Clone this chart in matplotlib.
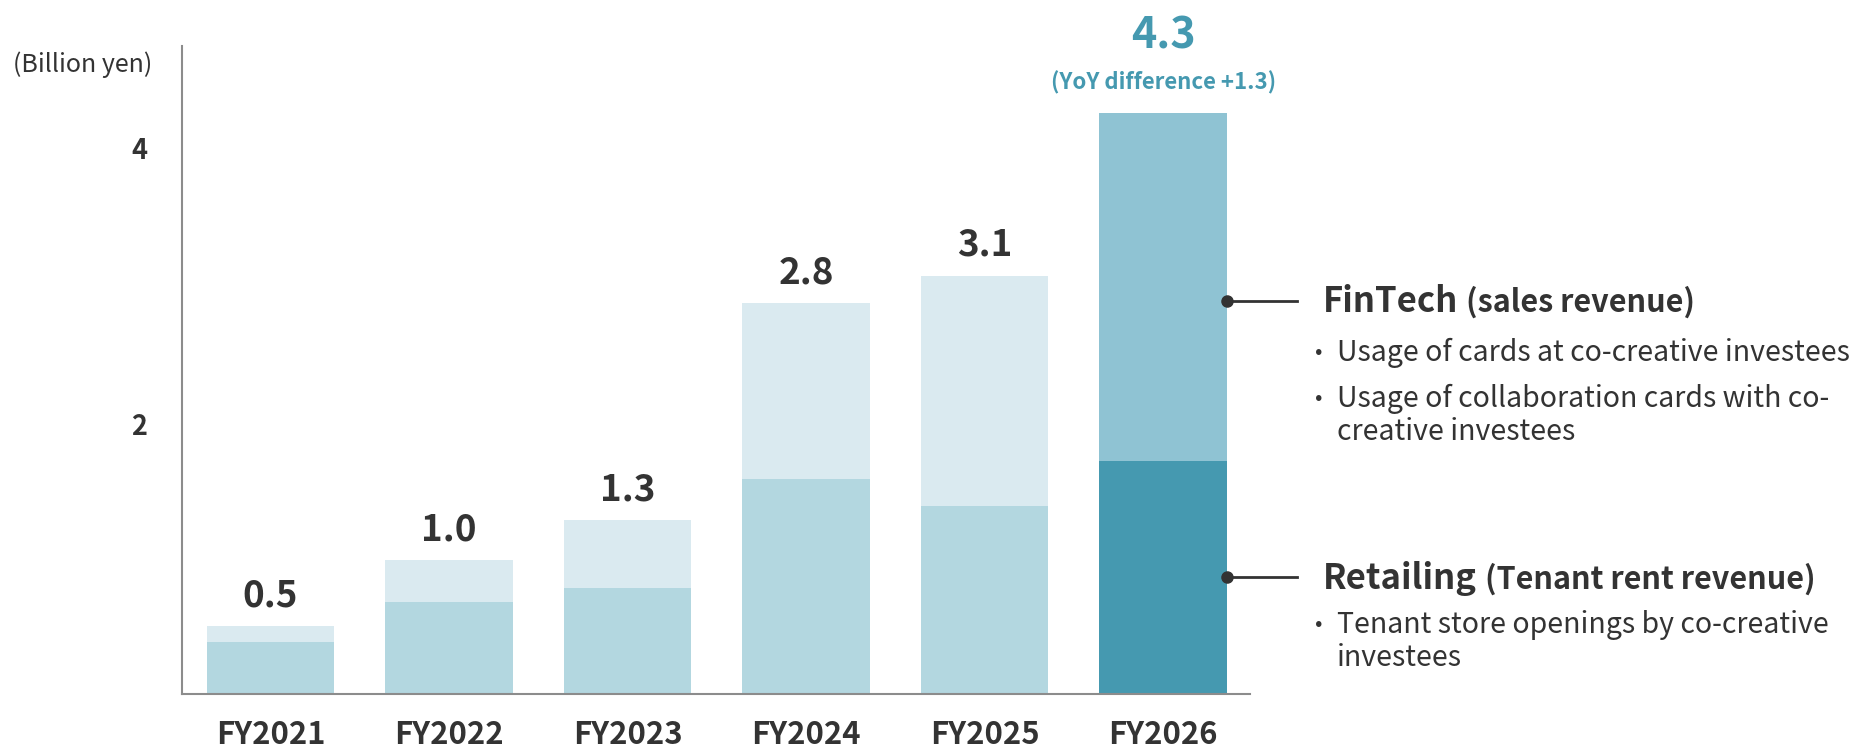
import numpy as np
import matplotlib
matplotlib.use("Agg")
import matplotlib.pyplot as plt

plt.rcParams['font.family'] = ['Noto Sans CJK JP', 'DejaVu Sans']

# data (billion yen)
years = ['FY2021', 'FY2022', 'FY2023', 'FY2024', 'FY2025', 'FY2026']
retail = [0.38, 0.67, 0.77, 1.56, 1.36, 1.69]
fintech = [0.11, 0.30, 0.49, 1.27, 1.67, 2.52]
total_labels = ['0.5', '1.0', '1.3', '2.8', '3.1', '4.3']
yoy_label = '(YoY difference +1.3)'
y_ticks = [2, 4]
callout_y = [2.85, 0.85]   # fintech, retailing

fin_title = ['FinTech', '(sales revenue)']
fin_bullets = [['Usage of cards at co-creative investees'],
               ['Usage of collaboration cards with co-', 'creative investees']]
ret_title = ['Retailing', '(Tenant rent revenue)']
ret_bullets = [['Tenant store openings by co-creative', 'investees']]

DARK = '#333333'
TEAL = '#4599b0'

W, H = 1858, 746
fig = plt.figure(figsize=(W / 100, H / 100), dpi=100)

def fx(px):
    return px / W

def fy(py):
    return 1 - py / H

ax = fig.add_axes([fx(182), fy(694), (1250 - 182) / W, (694 - 46) / H])

x = np.arange(len(years))
retail_colors = ['#b3d7e0'] * 5 + ['#4599b0']
fintech_colors = ['#daeaf0'] * 5 + ['#8fc3d3']
bw = 0.714
ax.bar(x, retail, width=bw, color=retail_colors, zorder=2)
ax.bar(x, fintech, bottom=retail, width=bw, color=fintech_colors, zorder=2)

ax.set_xlim(-0.496, 5.487)
ax.set_ylim(0, 4.696)

for s in ['top', 'right']:
    ax.spines[s].set_visible(False)
for s in ['left', 'bottom']:
    ax.spines[s].set_color('#8c8c8c')
    ax.spines[s].set_linewidth(1.5)

ax.set_xticks(x, years)
ax.tick_params(axis='x', length=0, pad=36, labelsize=22.3, labelcolor=DARK)
for lbl in ax.get_xticklabels():
    lbl.set_fontweight('bold')
    lbl.set_va('baseline')
ax.set_yticks([])

for t in y_ticks:
    ax.annotate(str(t), xy=(0, t), xycoords=('axes fraction', 'data'),
                xytext=(-35, -17), textcoords='offset pixels',
                ha='right', va='baseline', fontsize=19.5,
                fontweight='bold', color=DARK)

fig.text(fx(13), fy(65), '(Billion yen)', ha='left', va='center',
         fontsize=18, color=DARK)

totals = [r + f for r, f in zip(retail, fintech)]
for i, (tot, lab) in enumerate(zip(totals, total_labels)):
    if i == len(years) - 1:
        ax.annotate(lab, xy=(i, tot), xytext=(0, 65), textcoords='offset pixels',
                    ha='center', va='baseline', fontsize=31,
                    fontweight='bold', color=TEAL, annotation_clip=False)
        ax.annotate(yoy_label, xy=(i, tot), xytext=(0, 24), textcoords='offset pixels',
                    ha='center', va='baseline', fontsize=16,
                    fontweight='bold', color=TEAL, annotation_clip=False)
    else:
        ax.annotate(lab, xy=(i, tot), xytext=(0, 20), textcoords='offset pixels',
                    ha='center', va='baseline', fontsize=26.5,
                    fontweight='bold', color=DARK)

# callout connectors from the FY2026 bar
edge = x[-1] + bw / 2
for cy in callout_y:
    ax.plot([edge, 5.75], [cy, cy], color=DARK, lw=2, clip_on=False, zorder=3)
    ax.plot([edge], [cy], 'o', ms=8, color=DARK, clip_on=False, zorder=3)

fig.canvas.draw()
renderer = fig.canvas.get_renderer()

def title(parts, base_y):
    t1 = fig.text(fx(1323), fy(base_y), parts[0], ha='left', va='baseline',
                  fontsize=25, fontweight='bold', color=DARK)
    x1 = t1.get_window_extent(renderer).x1
    fig.text(fx(x1 + 8), fy(base_y), parts[1], ha='left', va='baseline',
             fontsize=22, fontweight='bold', color=DARK)

def bullets(items, base_y):
    y = base_y
    for lines in items:
        fig.text(fx(1319), fy(y - 11), '•', ha='center', va='center_baseline',
                 fontsize=16, color=DARK)
        for ln in lines:
            fig.text(fx(1337), fy(y), ln, ha='left', va='baseline',
                     fontsize=20.5, color=DARK)
            y += 33
        y += 13

title(fin_title, 312)
bullets(fin_bullets, 361)
title(ret_title, 589)
bullets(ret_bullets, 633)

fig.savefig('out.png', dpi=100, facecolor='white')
